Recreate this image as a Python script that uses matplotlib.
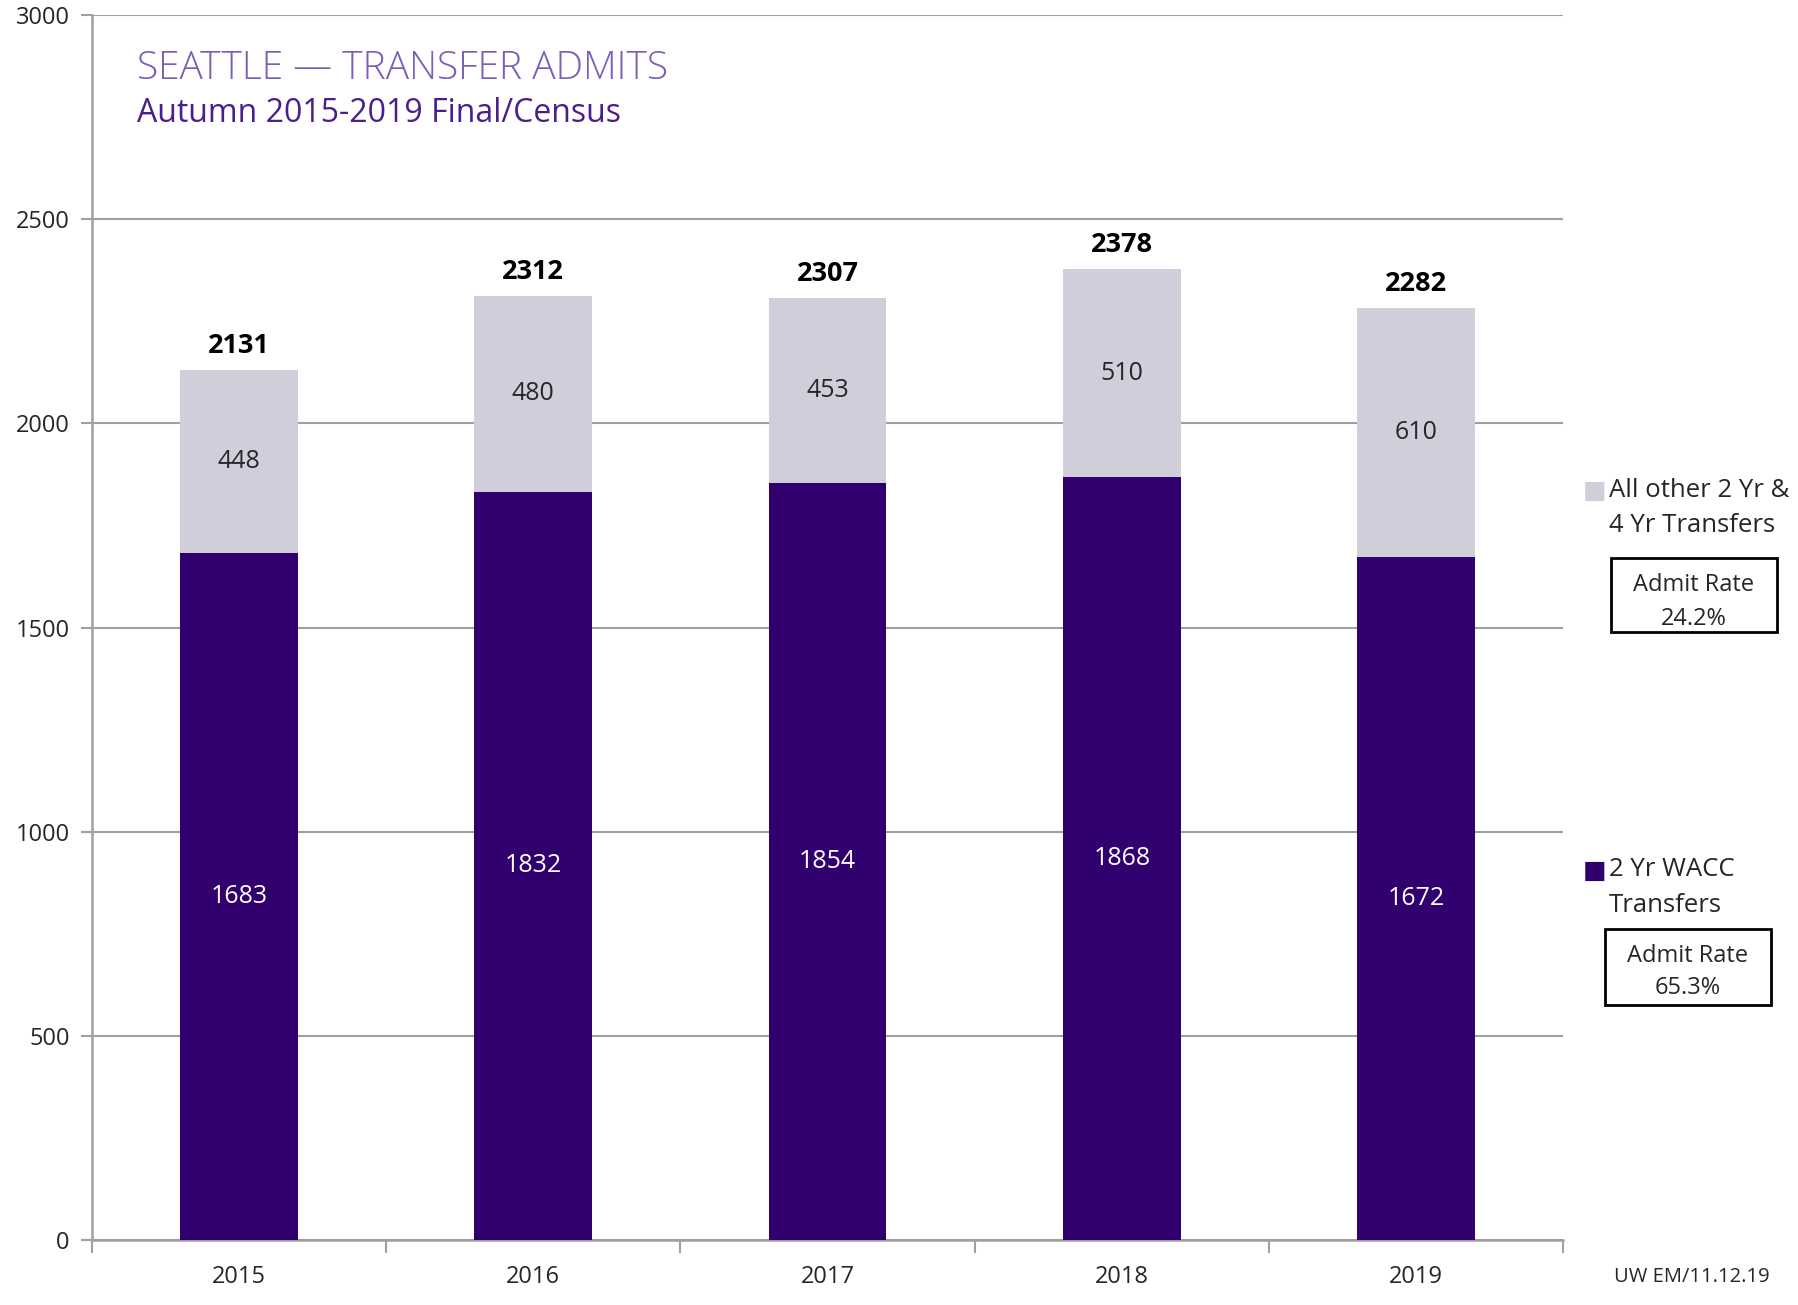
import matplotlib
matplotlib.use("Agg")
import matplotlib.pyplot as plt
import matplotlib.patches as mpatches
import numpy as np

# ── Data ──
years = ["2015", "2016", "2017", "2018", "2019"]
wacc = [1683, 1832, 1854, 1868, 1672]
other = [448, 480, 453, 510, 610]
totals = [2131, 2312, 2307, 2378, 2282]
y_ticks = [0, 500, 1000, 1500, 2000, 2500, 3000]

PURPLE = '#32006E'
LIGHT = '#D0CEDB'
GRID = '#A0A0A0'
TXT = '#262626'

plt.rcParams['font.family'] = ['Open Sans', 'DejaVu Sans']

fig = plt.figure(figsize=(17.99, 13.05), dpi=100)
ax = fig.add_axes([0.051, 0.0498, 0.818, 0.9387])

x = np.arange(len(years))
W = 0.40
ax.bar(x, wacc, W, color=PURPLE, zorder=3)
ax.bar(x, other, W, bottom=wacc, color=LIGHT, zorder=3)

for xi, w, o, t in zip(x, wacc, other, totals):
    ax.text(xi, w / 2, f'{w}', ha='center', va='center', fontsize=18,
            color='white', zorder=4)
    ax.text(xi, w + o / 2, f'{o}', ha='center', va='center', fontsize=18,
            color=TXT, zorder=4)
    ax.annotate(f'{t}', (xi, t), xytext=(0, 8), textcoords='offset points',
                ha='center', va='bottom', fontsize=19.5, fontweight='bold',
                color='black', zorder=4)

ax.set_xlim(-0.5, len(years) - 0.5)
ax.set_ylim(0, 3000)
ax.set_yticks(y_ticks)
ax.set_yticklabels([str(v) for v in y_ticks], fontsize=17, color=TXT)
ax.set_xticks(x)
ax.set_xticklabels(years, fontsize=17, color=TXT)
ax.tick_params(axis='x', length=0, pad=18)
ax.tick_params(axis='y', length=8, width=1.5, color=GRID, pad=8)

# category boundary ticks
ax.set_xticks(np.arange(-0.5, len(years)), minor=True)
ax.tick_params(axis='x', which='minor', length=9, width=1.5, color=GRID)

ax.yaxis.grid(True, color=GRID, lw=1.5, zorder=0)
for s in ['top', 'right']:
    ax.spines[s].set_visible(False)
for s in ['left', 'bottom']:
    ax.spines[s].set_color(GRID)
    ax.spines[s].set_linewidth(1.8)


def fx(px):
    return px / 1799


def fy(py):
    return 1 - py / 1305


# Title
fig.text(fx(137), fy(69), 'SEATTLE — TRANSFER ADMITS', fontsize=28,
         fontweight='light', color='#7B5EB6', va='center', ha='left')
fig.text(fx(137), fy(114), 'Autumn 2015-2019 Final/Census', fontsize=23,
         color='#4B1E8C', va='center', ha='left')

# Legend (manual)
fig.text(fx(1583), fy(491), '■', fontsize=18, color=LIGHT, va='center', ha='left')
fig.text(fx(1609), fy(490), 'All other 2 Yr &', fontsize=18.5, color=TXT,
         va='center', ha='left')
fig.text(fx(1609), fy(526), '4 Yr Transfers', fontsize=18.5, color=TXT,
         va='center', ha='left')
fig.add_artist(mpatches.Rectangle((fx(1611), fy(632)), fx(166), 74 / 1305,
                                  transform=fig.transFigure, fc='white',
                                  ec='black', lw=2))
fig.text(fx(1694), fy(585), 'Admit Rate', fontsize=17, color=TXT,
         va='center', ha='center')
fig.text(fx(1694), fy(619), '24.2%', fontsize=17, color=TXT,
         va='center', ha='center')

fig.text(fx(1583), fy(871), '■', fontsize=18, color=PURPLE, va='center', ha='left')
fig.text(fx(1609), fy(870), '2 Yr WACC', fontsize=18.5, color=TXT,
         va='center', ha='left')
fig.text(fx(1609), fy(906), 'Transfers', fontsize=18.5, color=TXT,
         va='center', ha='left')
fig.add_artist(mpatches.Rectangle((fx(1605), fy(1005)), fx(166), 76 / 1305,
                                  transform=fig.transFigure, fc='white',
                                  ec='black', lw=2))
fig.text(fx(1688), fy(956), 'Admit Rate', fontsize=17, color=TXT,
         va='center', ha='center')
fig.text(fx(1688), fy(988), '65.3%', fontsize=17, color=TXT,
         va='center', ha='center')

fig.text(fx(1692), fy(1277), 'UW EM/11.12.19', fontsize=14.5, color=TXT,
         va='center', ha='center')

fig.savefig('out.png', dpi=100, facecolor='white')
